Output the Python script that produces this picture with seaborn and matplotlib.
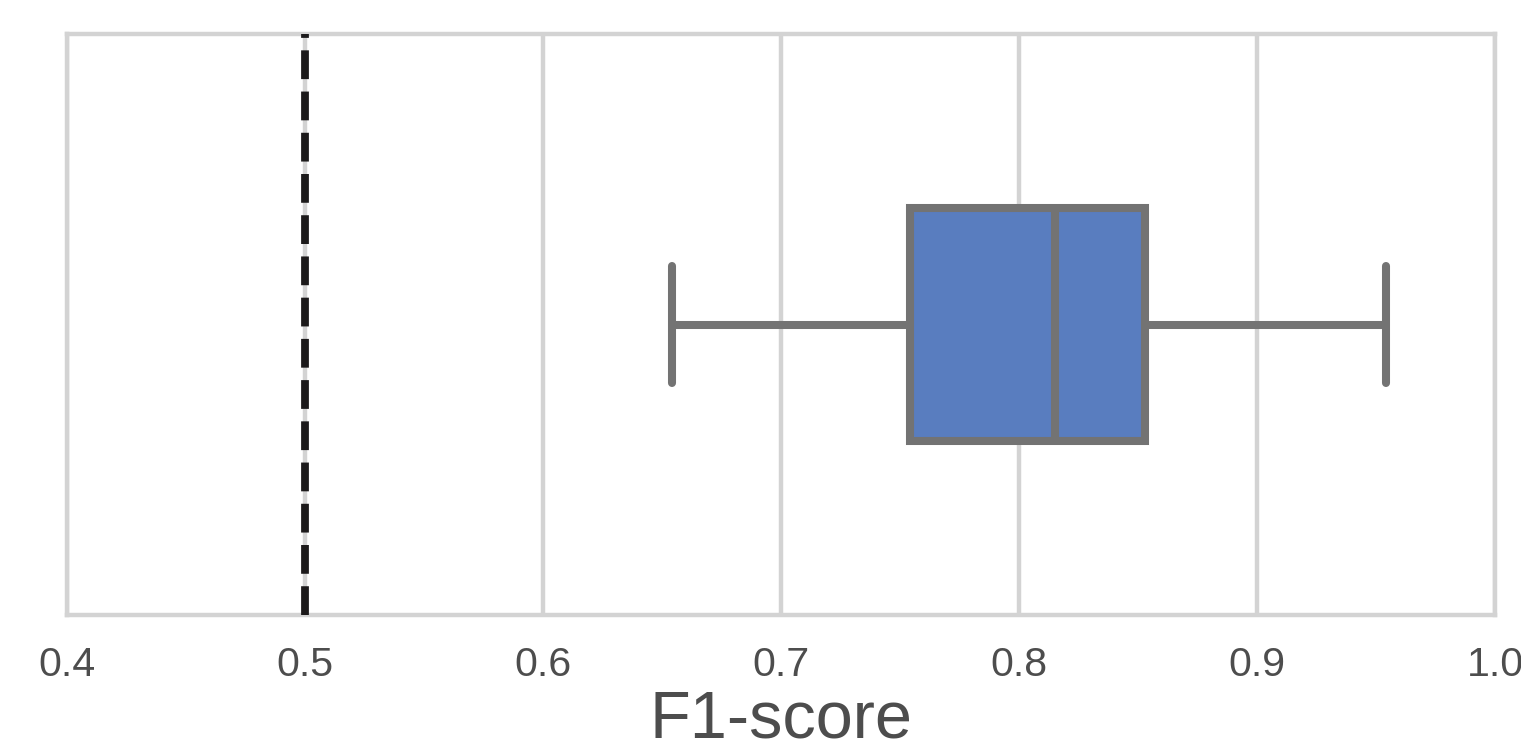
import matplotlib
matplotlib.use("Agg")
import matplotlib.pyplot as plt
import seaborn as sns
import pandas as pd

# Summary-consistent F1 values (min whisker, Q1, median, Q3, max whisker)
f1_scores = [0.654, 0.754, 0.815, 0.853, 0.954]
baseline = 0.5
xticks = [0.4, 0.5, 0.6, 0.7, 0.8, 0.9, 1.0]

sns.set_theme(style="whitegrid")
plt.rcParams['font.family'] = ['Liberation Sans', 'DejaVu Sans']

fig = plt.figure(figsize=(1521/200, 752/200), dpi=200)
ax = fig.add_axes([67/1521, 1-615/752, (1495-67)/1521, (615-34)/752])

df = pd.DataFrame({"F1-score": f1_scores})
sns.boxplot(data=df, x="F1-score", ax=ax, width=0.4,
            color=sns.color_palette("muted")[0], linewidth=2.9, saturation=0.75,
            linecolor="#737373")
ax.axvline(baseline, color="#1c1a1b", linestyle="--", linewidth=2.8, zorder=5)

ax.set_xlim(0.4, 1.0)
ax.set_xticks(xticks)
ax.set_xticklabels([f"{v:.1f}" for v in xticks])
ax.tick_params(axis="x", labelsize=14.8, colors="#4d4d4d", pad=5)
ax.set_xlabel("F1-score", fontsize=24, color="#4d4d4d", labelpad=2)
ax.set_ylabel("")
ax.grid(True, axis="x", color="#d3d3d3", linewidth=1.6)
for s in ax.spines.values():
    s.set_color("#d3d3d3")
    s.set_linewidth(1.6)

fig.savefig("out.png", dpi=200)
